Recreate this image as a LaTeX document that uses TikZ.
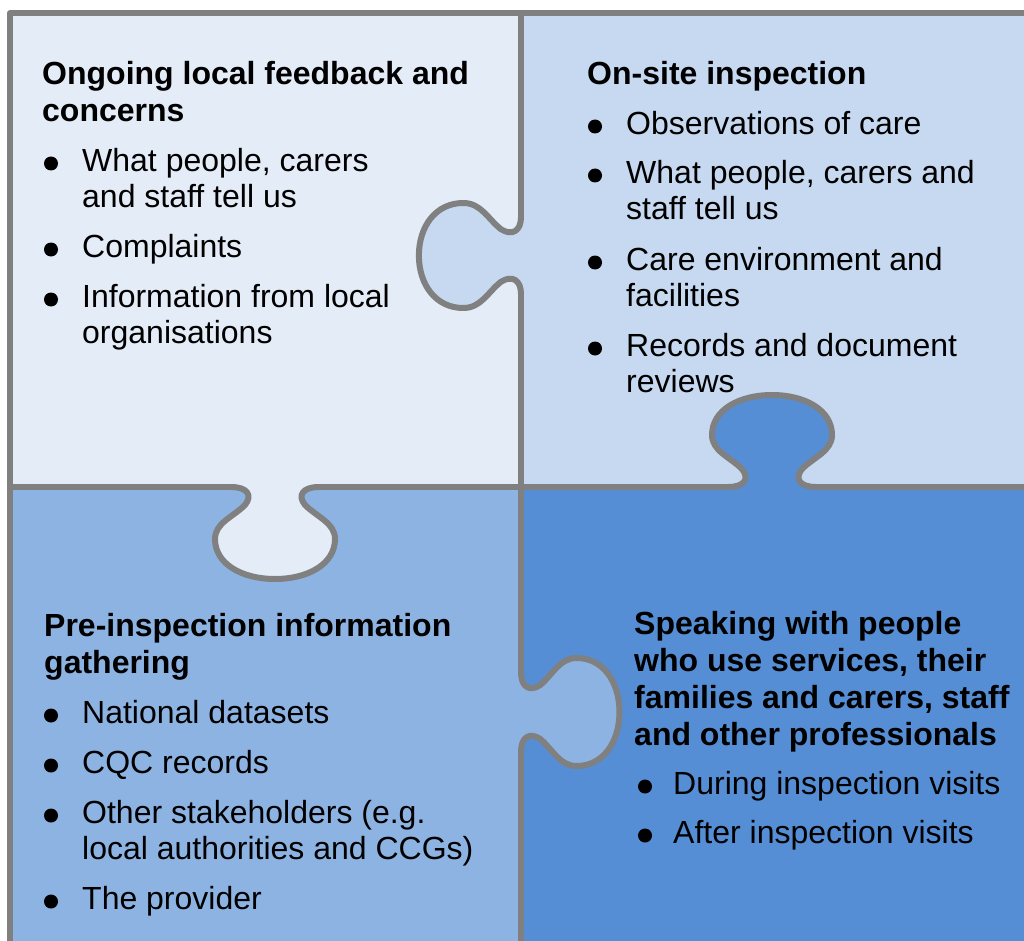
\documentclass[tikz,border=0pt]{standalone}
\usepackage{fontspec}
\setmainfont{Liberation Sans}
\definecolor{tlfill}{HTML}{E4ECF7}
\definecolor{trfill}{HTML}{C6D9F0}
\definecolor{blfill}{HTML}{8DB3E2}
\definecolor{brfill}{HTML}{558ED5}
\definecolor{seamgray}{HTML}{808080}
\begin{document}
\begin{tikzpicture}[x=1pt,y=-1pt,
  txt/.style={anchor=base west, inner sep=0pt, yshift=-1.5pt, font=\fontsize{32}{36}\selectfont},
  head/.style={anchor=base west, inner sep=0pt, yshift=-1.5pt, font=\fontsize{32}{36}\selectfont\bfseries},
  bulletdot/.style={circle, fill=black, inner sep=0pt, outer sep=0pt, minimum size=14pt, yshift=-1.5pt},
  seam/.style={draw=seamgray, line width=6pt, line cap=round, line join=round},
  % one puzzle tab in local coordinates: u along the seam, v outwards
  tabcurve/.style={insert path={(-44,0) .. controls (-28,0) and (-22,8) .. (-30,18)
     .. controls (-42,30) and (-60,36) .. (-60,52)
     .. controls (-60,77) and (-33,92) .. (0,92)
     .. controls (33,92) and (60,77) .. (60,52)
     .. controls (60,36) and (42,30) .. (30,18)
     .. controls (22,8) and (28,0) .. (44,0)}}
]
\useasboundingbox (0,0) rectangle (1024,941);
\clip (0,0) rectangle (1024,941);

% the four pieces
\fill[tlfill] (10,13) rectangle (521,487);
\fill[trfill] (521,13) rectangle (1030,487);
\fill[blfill] (10,487) rectangle (521,945);
\fill[brfill] (521,487) rectangle (1030,945);

% tab of the top-right piece, pointing left
\begin{scope}[shift={(521pt,-255.5pt)}, x={(0pt,-0.875pt)}, y={(-1.11pt,0pt)}]
  \fill[trfill, tabcurve] -- cycle;
  \draw[seam, tabcurve];
\end{scope}
% tab of the bottom-right piece, pointing up
\begin{scope}[shift={(772pt,-487pt)}, x={(1pt,0pt)}, y={(0pt,1pt)}]
  \fill[brfill, tabcurve] -- cycle;
  \draw[seam, tabcurve];
\end{scope}
% tab of the top-left piece, pointing down
\begin{scope}[shift={(275pt,-487pt)}, x={(1pt,0pt)}, y={(0pt,-1pt)}]
  \fill[tlfill, tabcurve] -- cycle;
  \draw[seam, tabcurve];
\end{scope}
% tab of the bottom-left piece, pointing right
\begin{scope}[shift={(521pt,-712pt)}, x={(0pt,-0.9pt)}, y={(1.07pt,0pt)}]
  \fill[blfill, tabcurve] -- cycle;
  \draw[seam, tabcurve];
\end{scope}

% straight seams and outer frame
\draw[seam] (521,13) -- (521,217);
\draw[seam] (521,294) -- (521,672.4);
\draw[seam] (521,751.6) -- (521,950);
\draw[seam] (10,487) -- (231,487);
\draw[seam] (319,487) -- (728,487);
\draw[seam] (816,487) -- (1030,487);
\draw[seam] (10,950) -- (10,13) -- (1030,13);

% top-left piece
\node[head] (tlh1) at (42,83) {Ongoing local feedback and};
\node[head] (tlh2) at (42,120) {concerns};
\node[bulletdot] (tlb1) at (51,162) {};
\node[txt] (tl1a) at (82,170) {What people, carers};
\node[txt] (tl1b) at (82,206) {and staff tell us};
\node[bulletdot] (tlb2) at (51,248) {};
\node[txt] (tl2) at (82,256) {Complaints};
\node[bulletdot] (tlb3) at (51,298) {};
\node[txt] (tl3a) at (82,306) {Information from local};
\node[txt] (tl3b) at (82,342) {organisations};

% top-right piece
\node[head] (trh1) at (587,83) {On-site inspection};
\node[bulletdot] (trb1) at (595,125) {};
\node[txt] (tr1) at (626,133) {Observations of care};
\node[bulletdot] (trb2) at (595,174) {};
\node[txt] (tr2a) at (626,182) {What people, carers and};
\node[txt] (tr2b) at (626,218) {staff tell us};
\node[bulletdot] (trb3) at (595,261) {};
\node[txt] (tr3a) at (626,269) {Care environment and};
\node[txt] (tr3b) at (626,305) {facilities};
\node[bulletdot] (trb4) at (595,347) {};
\node[txt] (tr4a) at (626,355) {Records and document};
\node[txt] (tr4b) at (626,391) {reviews};

% bottom-left piece
\node[head] (blh1) at (44,635) {Pre-inspection information};
\node[head] (blh2) at (44,672) {gathering};
\node[bulletdot] (blb1) at (51,714) {};
\node[txt] (bl1) at (82,722) {National datasets};
\node[bulletdot] (blb2) at (51,764) {};
\node[txt] (bl2) at (82,772) {CQC records};
\node[bulletdot] (blb3) at (51,814) {};
\node[txt] (bl3a) at (82,822) {Other stakeholders (e.g.};
\node[txt] (bl3b) at (82,858) {local authorities and CCGs)};
\node[bulletdot] (blb4) at (51,900) {};
\node[txt] (bl4) at (82,908) {The provider};

% bottom-right piece
\node[head] (brh1) at (634,633) {Speaking with people};
\node[head] (brh2) at (634,670) {who use services, their};
\node[head] (brh3) at (634,707) {families and carers, staff};
\node[head] (brh4) at (634,744) {and other professionals};
\node[bulletdot] (brb1) at (645,785) {};
\node[txt] (br1) at (673,793) {During inspection visits};
\node[bulletdot] (brb2) at (645,834) {};
\node[txt] (br2) at (673,842) {After inspection visits};
\end{tikzpicture}
\end{document}
